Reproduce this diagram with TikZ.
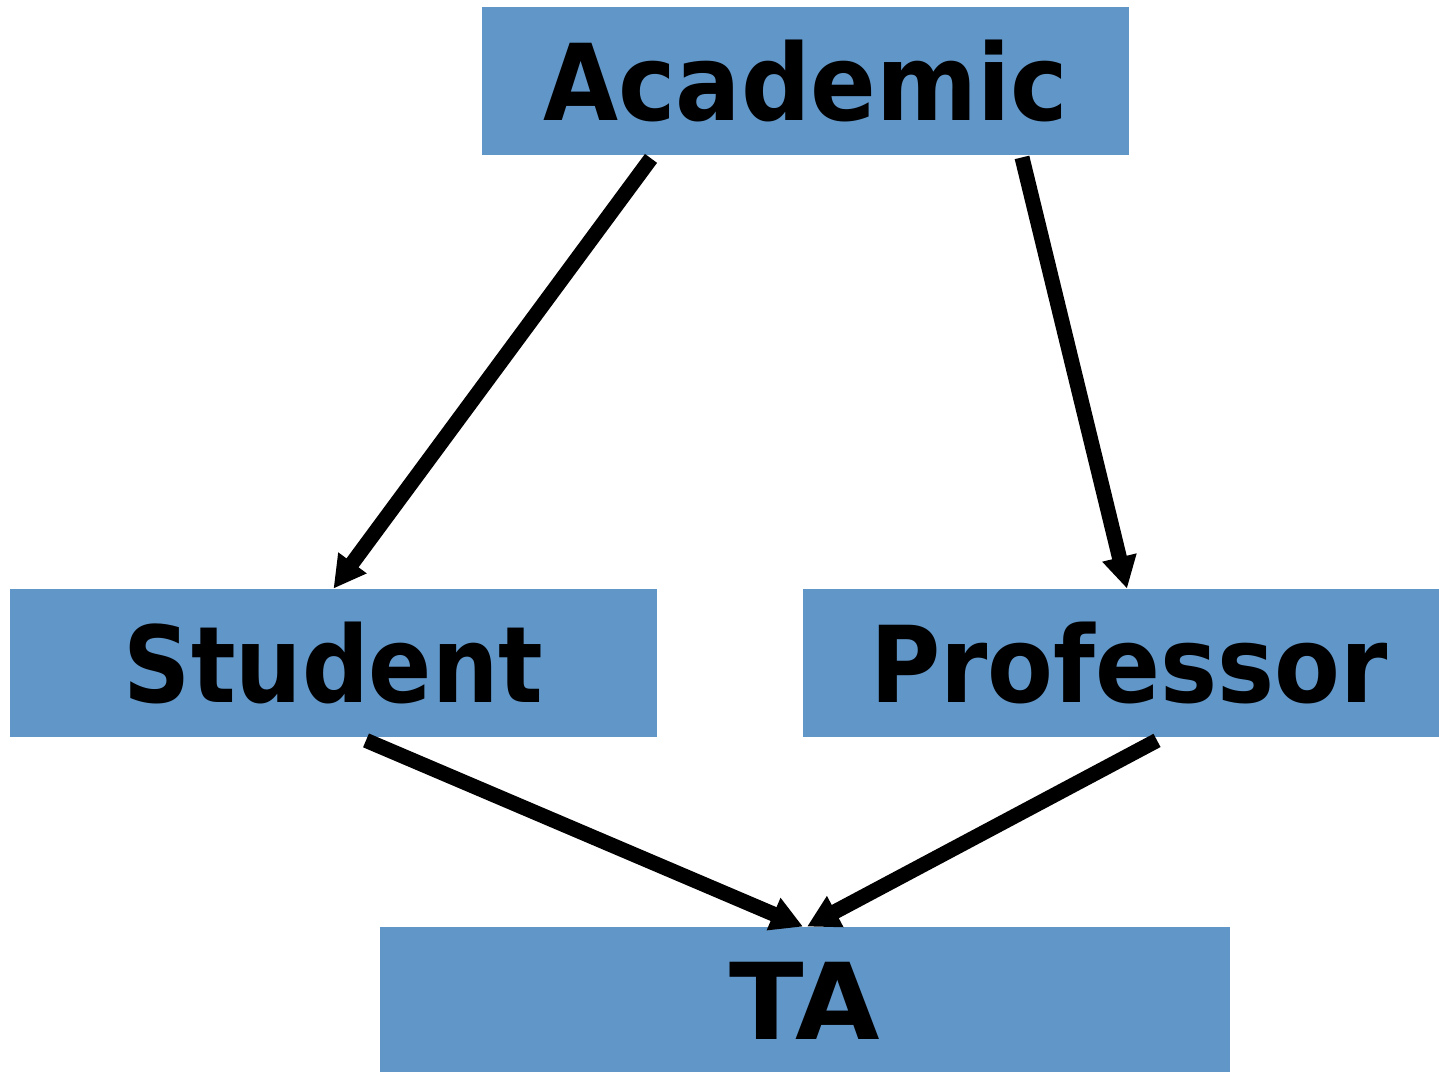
\documentclass[tikz,border=0pt]{standalone}
\usepackage{fontspec}
\setmainfont{DejaVu Sans}
\usetikzlibrary{arrows.meta,calc}
\definecolor{boxblue}{RGB}{97,150,200}
\tikzset{
  cls/.style={fill=boxblue, draw=none, minimum height=74pt, inner sep=0pt,
    font=\fontsize{53}{58}\selectfont\bfseries},
  arr/.style={line width=7.5pt, -{Triangle[length=16pt,width=16.5pt]}, line cap=butt}
}
\newcommand{\sq}[2]{\scalebox{#1}[1]{#2}}
\begin{document}
\begin{tikzpicture}[x=0.5pt,y=-0.5pt]
\useasboundingbox (0,0) rectangle (1439,1071);
\begin{scope}
\clip (0,0) rectangle (1439,1071);
\node[cls, minimum width=323.5pt] (acad) at (805.5,81) {\sq{0.915}{Academic}};
\node[cls, minimum width=323.5pt] (stud) at (333.5,663) {\sq{0.88}{Student}};
\node[cls, minimum width=318pt] (prof) at (1121,663) {\hspace{8pt}\sq{0.905}{Professor}};
\node[cls, minimum width=425pt] (ta) at (805,1001) {\sq{1.03}{TA}};
\end{scope}
\draw[arr] ($(acad.south)+(-154.5,3)$) -- (stud.north);
\draw[arr] ($(acad.south)+(216.5,2)$) -- ($(prof.north)+(6,0)$);
\draw[arr] ($(stud.south)+(32.5,3)$) -- ($(ta.north)+(-2,0)$);
\draw[arr] ($(prof.south)+(36,3)$) -- ($(ta.north)+(2,0)$);
\end{tikzpicture}
\end{document}
